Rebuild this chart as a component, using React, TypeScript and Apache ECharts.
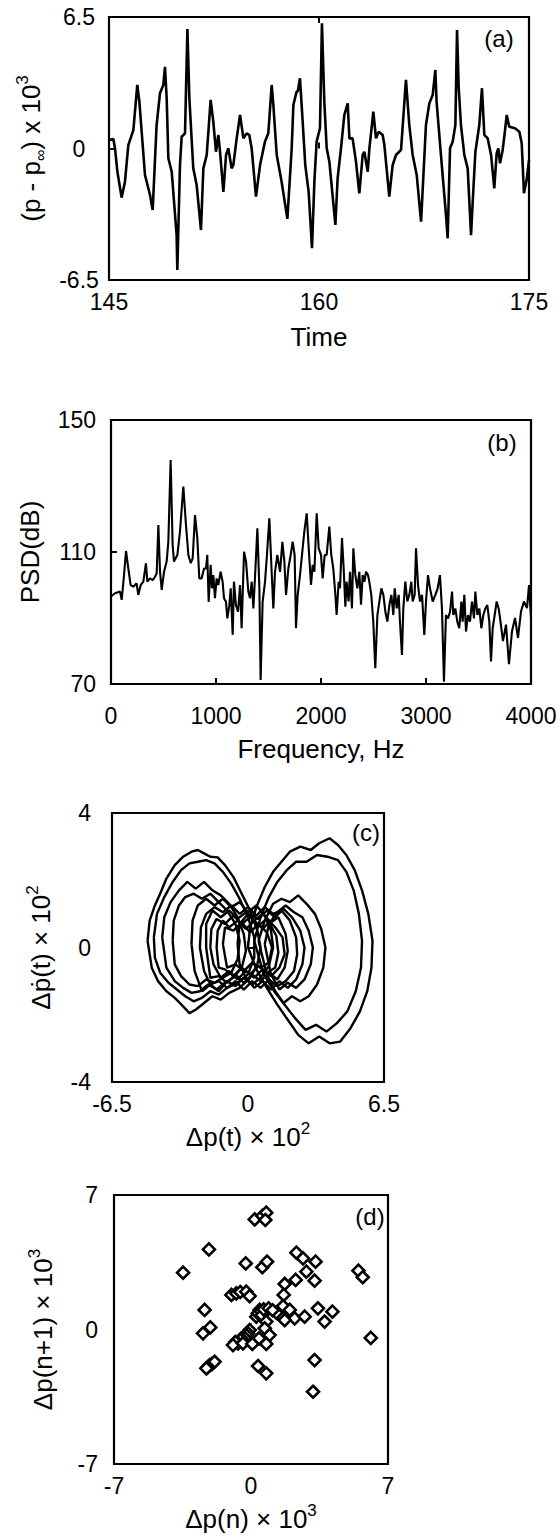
import React, { useEffect, useRef } from "react";
import * as echarts from "echarts";

const FONT = "'Liberation Sans', Arial, Helvetica, 'DejaVu Sans', sans-serif";

// ---------- (a) pressure fluctuation time series ----------
const timeTicks = [145, 160, 175];
const pressTicks = [-6.5, 0, 6.5];
const pressureSeries: [number, number][] = [
  [145.0, 0.42], [145.31, 0.47], [145.43, 0.01], [145.6, -1.15], [145.9, -2.43], [146.14, -1.64], [146.38, 0.17], [146.74, 0.91], [147.02, 3.14], [147.17, 2.31], [147.57, -1.31], [147.93, -2.3], [148.12, -3.04], [148.4, 1.16], [148.64, 2.73], [148.88, 3.14], [149.0, 4.04], [149.12, 2.48], [149.24, -0.48], [149.48, -1.15], [149.83, -4.28], [149.88, -6.01], [150.07, -0.82], [150.19, 0.58], [150.43, 0.75], [150.6, 5.91], [150.74, 2.48], [151.02, -0.98], [151.26, -1.8], [151.57, -4.03], [151.74, -0.98], [151.98, -0.32], [152.26, 2.4], [152.45, 1.33], [152.64, -0.16], [152.81, 0.67], [152.93, -0.16], [153.17, -2.14], [153.36, -0.32], [153.52, 0.01], [153.76, -0.98], [153.88, -0.82], [154.12, 0.5], [154.36, 1.66], [154.6, 0.5], [154.83, 0.75], [155.02, 0.67], [155.19, 0.01], [155.5, -2.38], [155.79, -0.82], [156.14, 0.34], [156.38, 0.75], [156.62, 3.14], [156.74, 2.15], [156.98, -0.32], [157.33, -1.64], [157.74, -3.48], [158.05, 0.01], [158.17, 2.15], [158.4, 2.81], [158.48, 2.81], [158.64, 3.47], [158.79, 1.82], [159.02, -0.82], [159.26, -2.14], [159.5, -4.93], [159.67, -1.64], [159.83, 0.34], [160.07, 1.0], [160.21, 6.19], [160.38, 2.31], [160.55, 0.01], [160.74, -0.65], [161.17, -3.78], [161.33, -1.47], [161.57, 0.01], [161.81, 1.66], [162.05, 2.23], [162.17, 0.5], [162.4, 0.5], [162.64, -0.65], [162.88, -2.22], [163.12, -0.32], [163.24, -0.16], [163.48, -1.15], [163.6, 0.01], [163.88, 1.82], [164.07, 0.5], [164.26, 0.83], [164.55, 0.67], [164.67, 0.17], [165.02, -2.38], [165.26, -0.82], [165.5, -0.32], [165.86, -0.07], [166.21, 3.39], [166.45, 1.16], [166.69, -0.32], [166.98, -1.31], [167.29, -3.62], [167.64, 1.16], [167.88, 2.23], [168.12, 2.64], [168.31, 3.88], [168.4, 2.31], [168.71, -0.32], [169.07, -3.29], [169.19, -4.44], [169.36, 0.01], [169.55, 0.34], [169.74, 1.16], [169.86, 5.86], [169.98, 2.98], [170.14, 1.16], [170.38, -0.32], [170.62, -0.98], [170.86, -4.28], [170.98, -2.63], [171.17, -0.16], [171.45, 1.16], [171.64, 2.98], [171.81, 0.67], [172.05, 0.5], [172.29, -0.32], [172.52, -1.97], [172.69, -0.24], [172.81, 0.01], [172.93, -0.73], [173.12, -0.07], [173.29, 0.91], [173.41, 1.66], [173.59, 1.08], [174.0, 1.0], [174.31, 0.83], [174.48, 0.26], [174.64, -2.21], [174.83, -1.56], [175.0, -0.57],
];

// ---------- (b) power spectral density ----------
const freqTicks = [0, 1000, 2000, 3000, 4000];
const psdTicks = [70, 110, 150];
const psdSeries: [number, number][] = [
  [0, 96.5], [38, 97.5], [86, 98.0], [102, 95.5], [124, 103.0], [143, 110.3], [165, 105.0], [187, 100.0], [213, 99.5], [244, 100.5], [260, 97.0], [283, 100.0], [308, 101.0], [333, 106.6], [346, 101.0], [371, 102.0], [397, 101.5], [419, 102.5], [435, 103.5], [451, 118.2], [467, 104.0], [483, 98.5], [505, 104.0], [530, 107.1], [546, 113.1], [568, 137.9], [587, 112.1], [600, 107.1], [632, 109.1], [657, 116.2], [689, 129.8], [714, 118.2], [737, 109.1], [759, 106.6], [778, 108.1], [800, 121.2], [822, 114.2], [841, 102.0], [863, 102.0], [886, 105.0], [905, 105.0], [917, 109.1], [930, 94.9], [949, 106.1], [962, 99.0], [975, 103.0], [990, 96.0], [1006, 102.0], [1022, 100.0], [1044, 104.0], [1063, 101.0], [1076, 96.0], [1095, 94.9], [1108, 89.9], [1127, 93.9], [1140, 99.0], [1159, 84.9], [1171, 101.0], [1190, 93.9], [1210, 91.9], [1229, 100.0], [1244, 86.9], [1267, 110.1], [1286, 107.1], [1308, 98.0], [1324, 96.0], [1340, 101.0], [1356, 92.9], [1371, 102.0], [1394, 117.2], [1413, 99.0], [1425, 71.2], [1444, 94.9], [1467, 101.0], [1483, 108.1], [1508, 120.2], [1530, 104.0], [1546, 92.9], [1562, 104.0], [1584, 109.1], [1610, 104.0], [1632, 113.1], [1651, 107.1], [1667, 97.0], [1689, 105.0], [1711, 109.1], [1730, 113.1], [1749, 109.1], [1762, 86.9], [1778, 97.0], [1800, 103.0], [1819, 109.1], [1841, 116.2], [1864, 121.7], [1883, 111.1], [1905, 100.0], [1921, 106.1], [1937, 104.0], [1959, 121.7], [1978, 111.1], [2000, 109.1], [2016, 102.0], [2035, 109.1], [2054, 109.1], [2079, 117.7], [2098, 109.1], [2117, 105.0], [2137, 97.0], [2149, 90.9], [2168, 101.0], [2181, 99.0], [2200, 114.2], [2216, 105.0], [2232, 93.4], [2244, 101.0], [2263, 95.0], [2276, 104.0], [2295, 92.9], [2308, 111.1], [2327, 103.0], [2346, 99.0], [2365, 104.0], [2381, 94.0], [2397, 103.0], [2413, 101.0], [2429, 104.0], [2448, 103.0], [2460, 101.0], [2479, 97.0], [2498, 88.9], [2517, 74.8], [2537, 90.9], [2556, 95.0], [2575, 99.0], [2594, 97.0], [2613, 91.9], [2632, 88.9], [2651, 93.9], [2670, 97.0], [2689, 90.9], [2702, 99.0], [2721, 92.9], [2740, 97.0], [2752, 88.9], [2771, 78.8], [2784, 92.9], [2803, 101.0], [2822, 95.0], [2841, 97.0], [2860, 101.0], [2873, 95.0], [2892, 97.0], [2905, 111.1], [2924, 100.0], [2943, 95.0], [2962, 97.0], [2984, 84.9], [3000, 95.0], [3019, 103.0], [3038, 99.0], [3064, 95.0], [3089, 97.0], [3111, 99.0], [3133, 103.0], [3152, 92.9], [3171, 70.7], [3190, 90.9], [3210, 89.9], [3229, 91.9], [3248, 98.0], [3260, 90.9], [3279, 92.9], [3298, 88.9], [3317, 86.9], [3337, 95.0], [3349, 88.9], [3365, 97.0], [3381, 85.9], [3400, 90.9], [3419, 88.9], [3438, 95.0], [3457, 89.9], [3470, 98.0], [3489, 90.9], [3508, 92.9], [3527, 86.9], [3546, 90.9], [3565, 92.9], [3584, 93.9], [3603, 88.9], [3619, 76.8], [3635, 86.9], [3654, 90.9], [3673, 95.0], [3692, 92.9], [3705, 90.0], [3733, 83.0], [3762, 88.0], [3790, 76.0], [3819, 86.0], [3848, 90.0], [3876, 84.0], [3905, 92.0], [3933, 95.0], [3962, 93.0], [3981, 100.0], [4000, 90.0],
];

// ---------- (c) phase portrait loops ----------
const phaseXTicks = [-6.5, 0, 6.5];
const phaseYTicks = [-4, 0, 4];
const loopL1: [number, number][] = [[-4.8, 0.2], [-4.7, 0.8], [-4.45, 1.25], [-4.2, 1.6], [-3.9, 2.05], [-3.5, 2.45], [-3.1, 2.7], [-2.7, 2.85], [-2.4, 2.9], [-2.1, 2.8], [-1.8, 2.7], [-1.45, 2.68], [-1.1, 2.45], [-0.7, 2.1], [-0.3, 1.6], [0.1, 1.1], [0.45, 0.5], [0.6, 0.0], [0.45, -0.5], [0.1, -0.9], [-0.4, -1.2], [-0.9, -1.35], [-1.3, -1.55], [-1.7, -1.45], [-2.1, -1.65], [-2.5, -1.85], [-2.8, -1.95], [-3.1, -1.75], [-3.5, -1.5], [-3.9, -1.3], [-4.3, -1.0], [-4.6, -0.6], [-4.8, 0.2]];
const loopL2: [number, number][] = [[-4.5, 0.3], [-4.35, 1.0], [-4.0, 1.5], [-3.6, 1.95], [-3.2, 2.3], [-2.8, 2.5], [-2.4, 2.55], [-2.0, 2.6], [-1.6, 2.5], [-1.2, 2.25], [-0.8, 1.9], [-0.4, 1.45], [0.0, 0.9], [0.3, 0.3], [0.3, -0.3], [0.0, -0.8], [-0.5, -1.05], [-1.0, -1.2], [-1.4, -1.4], [-1.8, -1.3], [-2.2, -1.5], [-2.6, -1.6], [-3.0, -1.45], [-3.4, -1.25], [-3.8, -1.05], [-4.2, -0.75], [-4.45, -0.3], [-4.5, 0.3]];
const loopL3: [number, number][] = [[-4.1, 0.3], [-4.0, 0.9], [-3.7, 1.35], [-3.3, 1.7], [-2.9, 1.95], [-2.5, 1.75], [-2.1, 1.95], [-1.7, 1.7], [-1.3, 1.55], [-0.9, 1.3], [-0.5, 0.9], [-0.2, 0.4], [-0.1, -0.1], [-0.3, -0.6], [-0.7, -0.9], [-1.1, -1.05], [-1.5, -1.25], [-1.9, -1.1], [-2.3, -1.3], [-2.7, -1.35], [-3.1, -1.2], [-3.5, -1.0], [-3.9, -0.6], [-4.1, 0.3]];
const loopL4: [number, number][] = [[-3.6, 0.2], [-3.55, 0.8], [-3.3, 1.25], [-3.0, 1.5], [-2.6, 1.6], [-2.2, 1.45], [-1.8, 1.6], [-1.4, 1.35], [-1.0, 1.1], [-0.6, 0.7], [-0.4, 0.2], [-0.5, -0.35], [-0.8, -0.75], [-1.2, -0.9], [-1.6, -1.05], [-2.0, -0.95], [-2.4, -1.15], [-2.8, -1.1], [-3.2, -0.85], [-3.5, -0.5], [-3.6, 0.2]];
const loopC1: [number, number][] = [[-2.3, 0.0], [-2.25, 0.6], [-2.0, 1.0], [-1.6, 1.2], [-1.2, 1.05], [-0.8, 1.25], [-0.4, 1.0], [0.0, 1.2], [0.4, 0.95], [0.8, 1.2], [1.2, 1.0], [1.6, 1.1], [2.0, 0.8], [2.3, 0.3], [2.35, -0.2], [2.2, -0.7], [1.8, -1.0], [1.4, -1.15], [1.0, -0.95], [0.6, -1.2], [0.2, -1.0], [-0.2, -1.25], [-0.6, -1.0], [-1.0, -1.2], [-1.4, -1.0], [-1.8, -1.1], [-2.1, -0.7], [-2.3, 0.0]];
const loopC2: [number, number][] = [[-1.8, 0.0], [-1.75, 0.55], [-1.5, 0.85], [-1.1, 0.7], [-0.7, 0.95], [-0.3, 0.7], [0.1, 0.9], [0.5, 0.65], [0.9, 0.85], [1.3, 0.6], [1.65, 0.3], [1.75, -0.2], [1.5, -0.6], [1.1, -0.85], [0.7, -0.65], [0.3, -0.9], [-0.1, -0.7], [-0.5, -0.95], [-0.9, -0.7], [-1.3, -0.9], [-1.65, -0.5], [-1.8, 0.0]];
const loopC3: [number, number][] = [[-1.2, 0.1], [-1.1, 0.6], [-0.7, 0.5], [-0.3, 0.75], [0.1, 0.45], [0.5, 0.7], [0.9, 0.45], [1.15, 0.0], [1.0, -0.45], [0.6, -0.6], [0.2, -0.45], [-0.2, -0.7], [-0.6, -0.5], [-1.0, -0.6], [-1.2, 0.1]];
const loopC4: [number, number][] = [[-0.5, 0.1], [-0.4, 0.7], [0.0, 1.0], [0.5, 0.85], [0.9, 1.1], [1.3, 0.9], [1.7, 1.15], [2.1, 0.9], [2.5, 0.5], [2.7, 0.0], [2.6, -0.5], [2.3, -0.95], [1.9, -1.2], [1.5, -1.0], [1.1, -1.25], [0.7, -1.0], [0.3, -1.2], [-0.1, -0.9], [-0.4, -0.5], [-0.5, 0.1]];
const loopC5: [number, number][] = [[-2.7, 0.1], [-2.65, 0.8], [-2.4, 1.25], [-2.0, 1.45], [-1.6, 1.25], [-1.2, 1.45], [-0.8, 1.2], [-0.4, 1.35], [0.0, 1.05], [0.4, 1.25], [0.8, 0.95], [1.1, 0.5], [1.2, 0.0], [1.0, -0.55], [0.6, -0.9], [0.2, -1.1], [-0.2, -0.9], [-0.6, -1.15], [-1.0, -1.0], [-1.4, -1.3], [-1.8, -1.1], [-2.2, -1.3], [-2.55, -0.7], [-2.7, 0.1]];
const loopC6: [number, number][] = [[-2.0, 0.0], [-2.0, 0.7], [-1.7, 1.1], [-1.3, 0.9], [-0.9, 1.1], [-0.5, 0.85], [-0.1, 1.05], [0.3, 0.8], [0.7, 1.0], [1.1, 0.75], [1.45, 0.9], [1.8, 0.4], [1.9, -0.1], [1.75, -0.6], [1.4, -0.95], [1.0, -0.75], [0.6, -1.0], [0.2, -0.8], [-0.2, -1.05], [-0.6, -0.8], [-1.0, -1.05], [-1.4, -0.85], [-1.8, -0.9], [-2.0, 0.0]];
const loopC7: [number, number][] = [[-1.5, 0.0], [-1.45, 0.5], [-1.2, 0.8], [-0.9, 0.6], [-0.5, 0.8], [-0.1, 0.55], [0.3, 0.8], [0.7, 0.55], [1.0, 0.75], [1.35, 0.35], [1.45, -0.15], [1.3, -0.6], [0.9, -0.75], [0.5, -0.55], [0.1, -0.8], [-0.3, -0.6], [-0.7, -0.85], [-1.1, -0.65], [-1.4, -0.6], [-1.5, 0.0]];
const loopR1: [number, number][] = [[0.0, 0.0], [0.1, 0.6], [0.4, 1.2], [0.8, 1.8], [1.2, 2.25], [1.6, 2.55], [2.0, 2.85], [2.5, 3.0], [3.0, 2.9], [3.4, 3.1], [3.9, 3.25], [4.3, 3.05], [4.7, 2.75], [5.1, 2.3], [5.45, 1.7], [5.75, 1.0], [5.95, 0.2], [5.9, -0.6], [5.7, -1.3], [5.35, -1.9], [4.9, -2.4], [4.4, -2.8], [3.9, -2.85], [3.4, -2.65], [2.9, -2.85], [2.4, -2.6], [1.9, -2.15], [1.4, -1.7], [0.9, -1.2], [0.4, -0.65], [0.0, 0.0]];
const loopR2: [number, number][] = [[0.3, 0.2], [0.6, 0.9], [1.0, 1.5], [1.4, 1.95], [1.85, 2.3], [2.3, 2.55], [2.8, 2.55], [3.3, 2.75], [3.8, 2.7], [4.3, 2.6], [4.7, 2.25], [5.05, 1.7], [5.3, 1.0], [5.45, 0.2], [5.4, -0.6], [5.15, -1.3], [4.75, -1.9], [4.25, -2.25], [3.75, -2.5], [3.25, -2.3], [2.75, -2.45], [2.25, -2.1], [1.75, -1.7], [1.25, -1.3], [0.75, -0.8], [0.3, 0.2]];
const loopR3: [number, number][] = [[0.5, 0.2], [0.8, 0.8], [1.2, 1.3], [1.6, 1.45], [2.0, 1.35], [2.4, 1.55], [2.8, 1.3], [3.2, 1.0], [3.5, 0.55], [3.7, 0.0], [3.6, -0.6], [3.3, -1.1], [2.9, -1.45], [2.5, -1.6], [2.1, -1.45], [1.7, -1.65], [1.3, -1.3], [0.9, -0.8], [0.5, 0.2]];
const loopR4: [number, number][] = [[0.8, 0.1], [1.0, 0.7], [1.4, 1.05], [1.8, 1.25], [2.2, 1.05], [2.6, 0.9], [2.9, 0.5], [3.1, 0.0], [3.0, -0.5], [2.7, -0.95], [2.3, -1.2], [1.9, -1.05], [1.5, -1.25], [1.1, -0.8], [0.8, 0.1]];
const phaseLoops = [loopL1, loopL2, loopL3, loopL4, loopC1, loopC2, loopC3, loopC4, loopC5, loopC6, loopC7, loopR1, loopR2, loopR3, loopR4];

// ---------- (d) return map ----------
const mapTicks = [-7, 0, 7];
const returnMap: [number, number][] = [
  [0.19, 5.73], [0.58, 5.91], [0.78, 6.08], [0.73, 5.7], [-2.15, 4.17], [-3.47, 2.96], [-0.27, 3.44], [0.58, 3.24], [0.82, 3.53], [2.32, 4.0], [2.66, 3.7], [3.3, 3.53], [2.83, 3.01], [3.25, 2.54], [2.28, 2.58], [1.72, 2.37], [1.67, 1.8], [-1.0, 1.8], [-0.75, 1.88], [-0.55, 1.95], [-0.24, 1.97], [-0.07, 1.74], [-2.37, 1.02], [-2.45, -0.2], [-2.08, 0.11], [1.64, 1.22], [1.98, 1.02], [1.55, 0.67], [2.23, 0.58], [2.74, 0.67], [3.42, 1.1], [4.16, 0.93], [3.76, 0.41], [1.29, 0.88], [1.72, 0.49], [0.44, 1.02], [0.61, 0.84], [0.27, 0.67], [0.35, 0.85], [0.5, 0.95], [0.55, 0.75], [0.65, 1.05], [0.9, 1.1], [1.1, 1.0], [0.78, 0.41], [0.7, 0.06], [0.95, -0.29], [0.78, -0.75], [0.41, -0.46], [-0.07, -0.03], [-0.15, -0.2], [-0.24, -0.29], [-0.3, -0.45], [-0.49, -0.46], [-0.55, -0.55], [-0.66, -0.72], [-0.8, -0.65], [-0.92, -0.81], [-0.41, -0.72], [0.07, -0.75], [-2.11, -1.85], [-2.0, -1.8], [-1.86, -1.68], [-2.2, -1.95], [-2.28, -2.02], [0.36, -1.9], [0.78, -2.28], [3.25, -1.59], [3.17, -3.24], [5.49, 3.06], [5.71, 2.72], [6.12, -0.44],
];

const grids = [
  { left: 109, top: 17, width: 420, height: 263 },
  { left: 111, top: 420, width: 420, height: 264 },
  { left: 112, top: 813, width: 272, height: 269 },
  { left: 114, top: 1195, width: 274, height: 269 },
];

const rich = {
  sup: { fontSize: 17, lineHeight: 17, verticalAlign: "top", fontFamily: FONT, color: "#000" },
  sub: { fontSize: 16, lineHeight: 16, verticalAlign: "bottom", fontFamily: FONT, color: "#000" },
};

function nameStyle() {
  return { fontSize: 26, fontFamily: FONT, color: "#000", lineHeight: 34, rich };
}

const plain = (v: number) => String(v);

function xAxis(gi: number, min: number, max: number, labels: number[], ticks: number[], name: string, nameGap: number, margin: number) {
  return {
    type: "value", gridIndex: gi, min, max, position: "bottom",
    axisLine: { show: false },
    splitLine: { show: false },
    axisTick: { show: true, inside: true, length: 6, customValues: ticks, lineStyle: { color: "#000", width: 2 } },
    axisLabel: { customValues: labels, formatter: plain, margin, fontSize: 23, fontFamily: FONT, color: "#000" },
    name, nameLocation: "middle", nameGap, nameTextStyle: nameStyle(),
  };
}

function yAxis(gi: number, min: number, max: number, labels: number[], ticks: number[], name: string, nameGap: number, margin: number, align?: string) {
  return {
    type: "value", gridIndex: gi, min, max,
    axisLine: { show: false },
    splitLine: { show: false },
    axisTick: { show: true, inside: true, length: 6, customValues: ticks, lineStyle: { color: "#000", width: 2 } },
    axisLabel: { customValues: labels, formatter: plain, margin, fontSize: 23, fontFamily: FONT, color: "#000", align: align || "right" },
    name, nameLocation: "middle", nameGap, nameTextStyle: nameStyle(),
  };
}

function panelLabel(text: string, x: number, y: number) {
  return {
    type: "text", x, y,
    style: { text, fill: "#000", font: `24px ${FONT}`, align: "center", verticalAlign: "middle" },
  };
}

export default function App() {
  const ref = useRef<HTMLDivElement>(null);
  useEffect(() => {
    document.body.style.margin = "0";
    const chart = echarts.init(ref.current!, undefined, { renderer: "svg" });
    const option: any = {
      animation: false,
      backgroundColor: "#fff",
      grid: grids.map((g) => ({ ...g, show: true, borderColor: "#000", borderWidth: 2.2, backgroundColor: "transparent" })),
      xAxis: [
        xAxis(0, 145, 175, timeTicks, [160], "Time", 40, 10),
        { type: "value", gridIndex: 0, min: 145, max: 175, position: "top", axisLine: { show: false }, splitLine: { show: false },
          axisLabel: { show: false }, axisTick: { show: true, inside: true, length: 6, customValues: [160], lineStyle: { color: "#000", width: 2 } } },
        xAxis(1, 0, 4000, freqTicks, [1000, 2000, 3000], "Frequency, Hz", 48, 20),
        xAxis(2, -6.5, 6.5, phaseXTicks, [0], "Δp(t) × 10{sup|2}", 38, 10),
        xAxis(3, -7, 7, mapTicks, [0], "Δp(n) × 10{sup|3}", 38, 10),
      ],
      yAxis: [
        yAxis(0, -6.5, 6.5, pressTicks, [0], "(p - p{sub|∞}) x 10{sup|3}", 52, 30, "center"),
        yAxis(1, 70, 150, psdTicks, [110], "PSD(dB)", 58, 15),
        yAxis(2, -4, 4, phaseYTicks, [0], "Δṗ(t) × 10{sup|2}", 54, 21),
        yAxis(3, -7, 7, mapTicks, [0], "Δp(n+1) × 10{sup|3}", 54, 16),
      ],
      series: [
        { type: "line", xAxisIndex: 0, yAxisIndex: 0, data: pressureSeries, showSymbol: false, symbol: "none",
          lineStyle: { color: "#000", width: 2.6 } },
        { type: "line", xAxisIndex: 2, yAxisIndex: 1, data: psdSeries, showSymbol: false, symbol: "none",
          lineStyle: { color: "#000", width: 2.1 } },
        ...phaseLoops.map((loop) => ({
          type: "line", xAxisIndex: 3, yAxisIndex: 2, data: loop, showSymbol: false, symbol: "none",
          lineStyle: { color: "#000", width: 2.4 },
        })),
        { type: "scatter", xAxisIndex: 4, yAxisIndex: 3, data: returnMap, symbol: "diamond", symbolSize: 12,
          itemStyle: { color: "#fff", borderColor: "#000", borderWidth: 2.6, opacity: 1 } },
      ],
      graphic: [
        panelLabel("(a)", 499, 38),
        panelLabel("(b)", 502, 442),
        panelLabel("(c)", 366, 832),
        panelLabel("(d)", 370, 1216),
      ],
    };
    chart.setOption(option);
    return () => chart.dispose();
  }, []);
  return <div ref={ref} style={{ width: 560, height: 1540, background: "#fff" }} />;
}
